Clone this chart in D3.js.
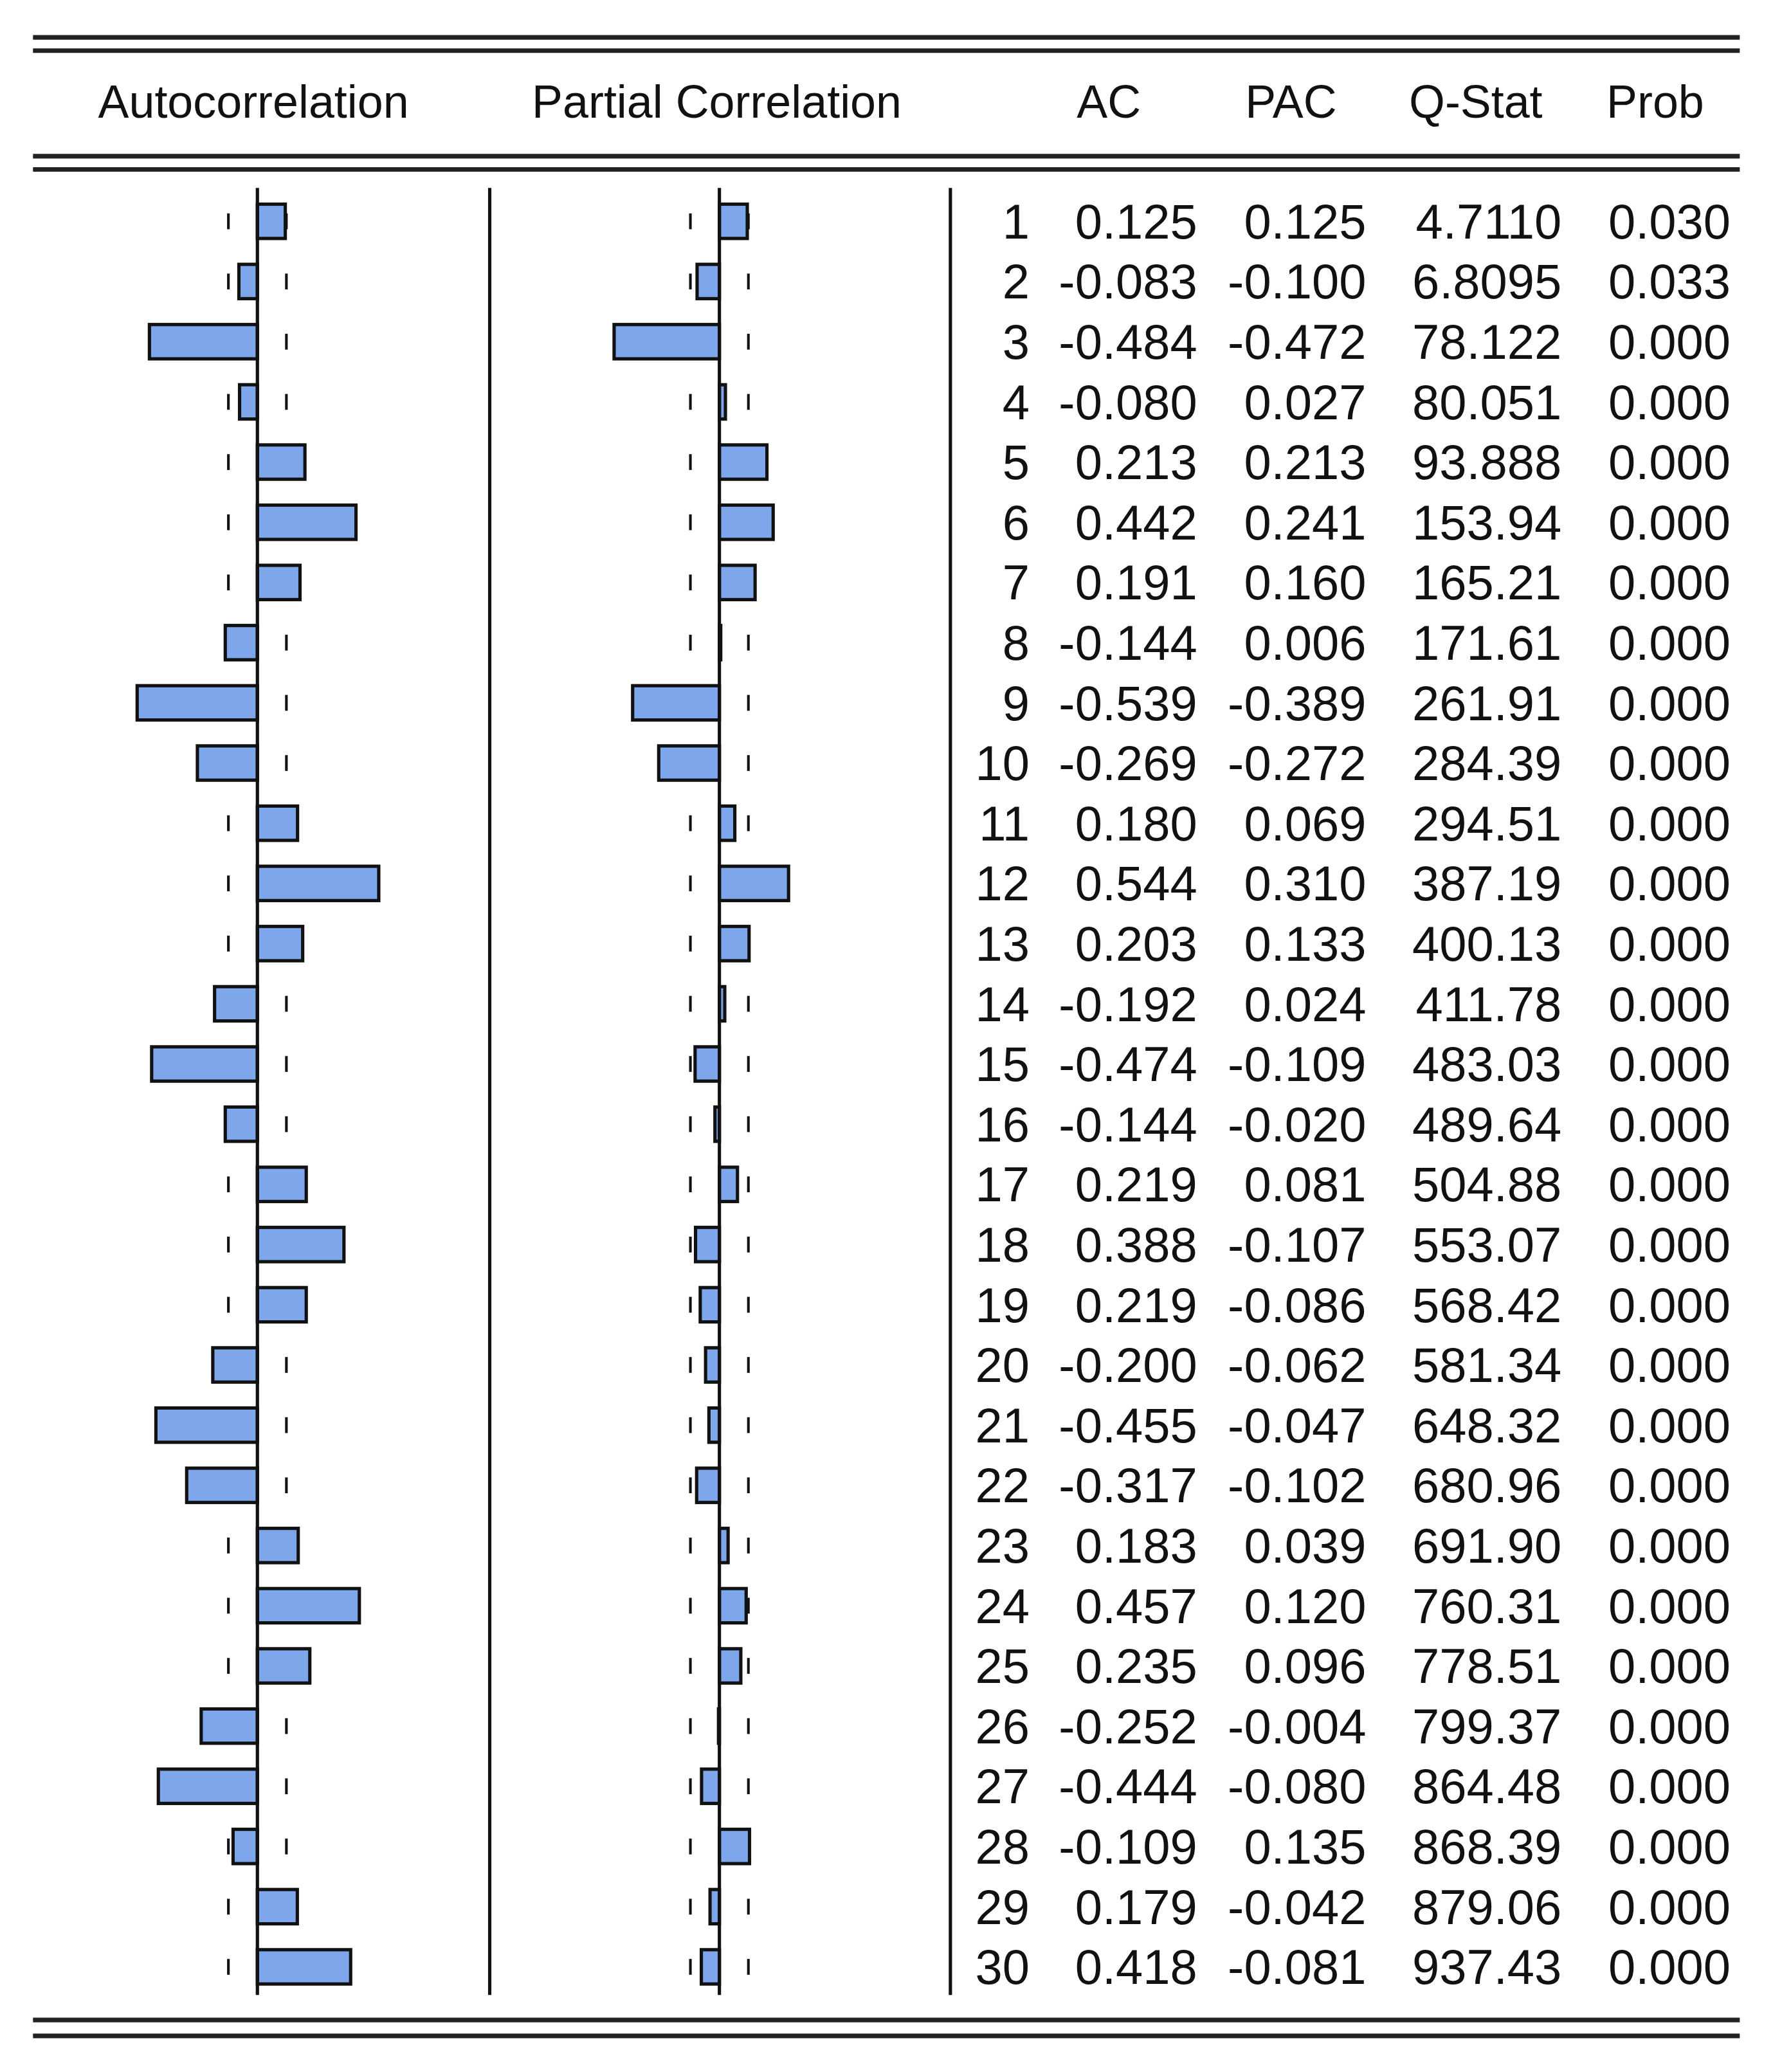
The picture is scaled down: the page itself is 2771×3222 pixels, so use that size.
<!DOCTYPE html>
<html><head><meta charset="utf-8">
<script src="https://cdn.jsdelivr.net/npm/d3@7"></script>
<style>html,body{margin:0;padding:0;background:#fff}</style>
</head><body>
<script>
const lags = d3.range(1, 31);
const ac = [0.125,-0.083,-0.484,-0.080,0.213,0.442,0.191,-0.144,-0.539,-0.269,0.180,0.544,0.203,-0.192,-0.474,-0.144,0.219,0.388,0.219,-0.200,-0.455,-0.317,0.183,0.457,0.235,-0.252,-0.444,-0.109,0.179,0.418];
const pac = [0.125,-0.100,-0.472,0.027,0.213,0.241,0.160,0.006,-0.389,-0.272,0.069,0.310,0.133,0.024,-0.109,-0.020,0.081,-0.107,-0.086,-0.062,-0.047,-0.102,0.039,0.120,0.096,-0.004,-0.080,0.135,-0.042,-0.081];
const qstat = ["4.7110","6.8095","78.122","80.051","93.888","153.94","165.21","171.61","261.91","284.39","294.51","387.19","400.13","411.78","483.03","489.64","504.88","553.07","568.42","581.34","648.32","680.96","691.90","760.31","778.51","799.37","864.48","868.39","879.06","937.43"];
const prob = ["0.030","0.033","0.000","0.000","0.000","0.000","0.000","0.000","0.000","0.000","0.000","0.000","0.000","0.000","0.000","0.000","0.000","0.000","0.000","0.000","0.000","0.000","0.000","0.000","0.000","0.000","0.000","0.000","0.000","0.000"];
const headers = ["Autocorrelation","Partial Correlation","AC","PAC","Q-Stat","Prob"];
const bound = 0.13;

const W = 1350, H = 1569;
const svg = d3.select("body").append("svg")
  .attr("width", 2771).attr("height", 3222)
  .attr("viewBox", `0 0 ${W} ${H}`)
  .style("font-family", "'Liberation Sans', Arial, sans-serif");

const y = d3.scaleBand().domain(lags).range([144.5, 1512.5]).paddingInner(0.43).paddingOuter(0.215);
const xA = d3.scaleLinear().domain([-1, 1]).range([195 - 169, 195 + 169]);
const xP = d3.scaleLinear().domain([-1, 1]).range([545 - 169, 545 + 169]);

// double rules
[[28, 38], [118, 128], [1530, 1542]].forEach(pair => pair.forEach(yy =>
  svg.append("line").attr("x1", 25).attr("x2", 1318).attr("y1", yy).attr("y2", yy)
    .attr("stroke", "#222").attr("stroke-width", 3.5)));

// headers
const hx = [192, 543, 840, 978, 1118, 1254];
headers.forEach((h, i) => svg.append("text").attr("x", hx[i]).attr("y", 89)
  .attr("text-anchor", "middle").attr("font-size", 35).attr("fill", "#111").text(h));

// separators
[371, 720].forEach(xx => svg.append("line").attr("x1", xx).attr("x2", xx)
  .attr("y1", 142).attr("y2", 1511).attr("stroke", "#111").attr("stroke-width", 2.5));

function panel(x, vals) {
  const g = svg.append("g");
  // bound dashes
  [-bound, bound].forEach(b => g.selectAll(null).data(lags).join("line")
    .attr("x1", x(b)).attr("x2", x(b))
    .attr("y1", d => y(d) + y.bandwidth() / 2 - 6).attr("y2", d => y(d) + y.bandwidth() / 2 + 6)
    .attr("stroke", "#111").attr("stroke-width", 2));
  g.selectAll("rect").data(vals).join("rect")
    .attr("x", d => x(Math.min(0, d)))
    .attr("width", d => Math.abs(x(d) - x(0)))
    .attr("y", (d, i) => y(lags[i]))
    .attr("height", y.bandwidth())
    .attr("fill", "#7ea6ea").attr("stroke", "#111").attr("stroke-width", 2.5);
  g.append("line").attr("x1", x(0)).attr("x2", x(0)).attr("y1", 142).attr("y2", 1511)
    .attr("stroke", "#111").attr("stroke-width", 2.5);
}
panel(xA, ac);
panel(xP, pac);

// table
const cols = [
  {x: 780, v: lags.map(String)},
  {x: 907, v: ac.map(d => d.toFixed(3))},
  {x: 1035, v: pac.map(d => d.toFixed(3))},
  {x: 1183, v: qstat},
  {x: 1311, v: prob}
];
cols.forEach(c => svg.append("g").selectAll("text").data(c.v).join("text")
  .attr("x", c.x).attr("y", (d, i) => y(lags[i]) + y.bandwidth() / 2 + 13)
  .attr("text-anchor", "end").attr("font-size", 37).attr("fill", "#111").text(d => d));
</script>
</body></html>
